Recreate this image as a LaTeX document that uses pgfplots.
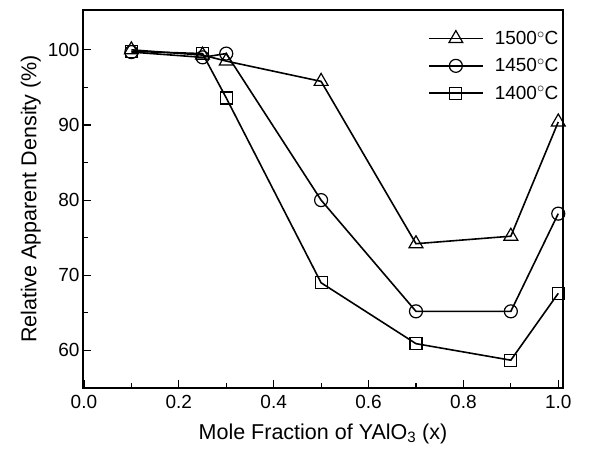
\documentclass[border=0pt]{standalone}
\usepackage{pgfplots}
\pgfplotsset{compat=1.18}
\usepackage{fontspec}
\setmainfont{Liberation Sans}

\pgfplotstableread{
x     d
0.10  100.0
0.25  99.3
0.30  98.5
0.50  95.8
0.70  74.2
0.90  75.2
1.00  90.4
}\tfifteen
\pgfplotstableread{
x     d
0.10  99.7
0.25  99.0
0.30  99.5
0.50  80.0
0.70  65.2
0.90  65.2
1.00  78.2
}\tfourteenfifty
\pgfplotstableread{
x     d
0.10  99.8
0.25  99.5
0.30  93.6
0.50  69.0
0.70  60.9
0.90  58.7
1.00  67.6
}\tfourteen

\begin{document}
\begin{tikzpicture}
\begin{axis}[
  scale only axis,
  width=480pt, height=378pt,
  xmin=-0.002, xmax=1.01,
  ymin=55, ymax=105.3,
  xtick={0,0.2,...,1.0},
  minor xtick={0.1,0.3,...,0.9},
  ytick={60,70,80,90,100},
  minor ytick={55,65,75,85,95},
  tick pos=left,
  tick align=inside,
  major tick length=8pt,
  minor tick length=5pt,
  every tick/.style={black, line width=1.2pt},
  axis line style={line width=1.5pt},
  /pgf/number format/assume math mode=true,
  tick label style={font=\fontsize{19}{21}\selectfont},
  xticklabel style={/tikz/yshift=-4pt, /pgf/number format/.cd, fixed, fixed zerofill, precision=1},
  yticklabel style={/pgf/number format/.cd, fixed},
  label style={font=\fontsize{21.5}{24}\selectfont},
  xlabel={Mole Fraction of YAlO\textsubscript{3} (x)},
  ylabel={Relative Apparent Density (\%)},
  xlabel style={yshift=-8pt},
  legend style={draw=none, fill=none, at={(0.712,0.955)}, anchor=north west,
    font=\fontsize{19}{21}\selectfont, row sep=8.5pt,
    /tikz/every odd column/.append style={column sep=9pt}},
  legend cell align=left,
  legend image code/.code={
    \draw[line width=1.8pt, mark repeat=2, mark phase=2] plot coordinates {(0pt,0pt) (27pt,0pt) (54pt,0pt)};
  },
  every axis plot/.append style={black, line width=1.6pt,
    mark options={solid, fill=white, line width=1.2pt}},
  clip=false,
]
\addplot[mark=triangle, mark size=8pt] table[x=x, y=d] {\tfifteen};
\addlegendentry{1500$^{\circ}$C}
\addplot[mark=o, mark size=6.5pt] table[x=x, y=d] {\tfourteenfifty};
\addlegendentry{1450$^{\circ}$C}
\addplot[mark=square, mark size=6pt] table[x=x, y=d] {\tfourteen};
\addlegendentry{1400$^{\circ}$C}
\end{axis}
\path ([shift={(-83pt,-67pt)}]current axis.south west) rectangle ([shift={(50pt,10pt)}]current axis.north east);
\end{tikzpicture}
\end{document}
